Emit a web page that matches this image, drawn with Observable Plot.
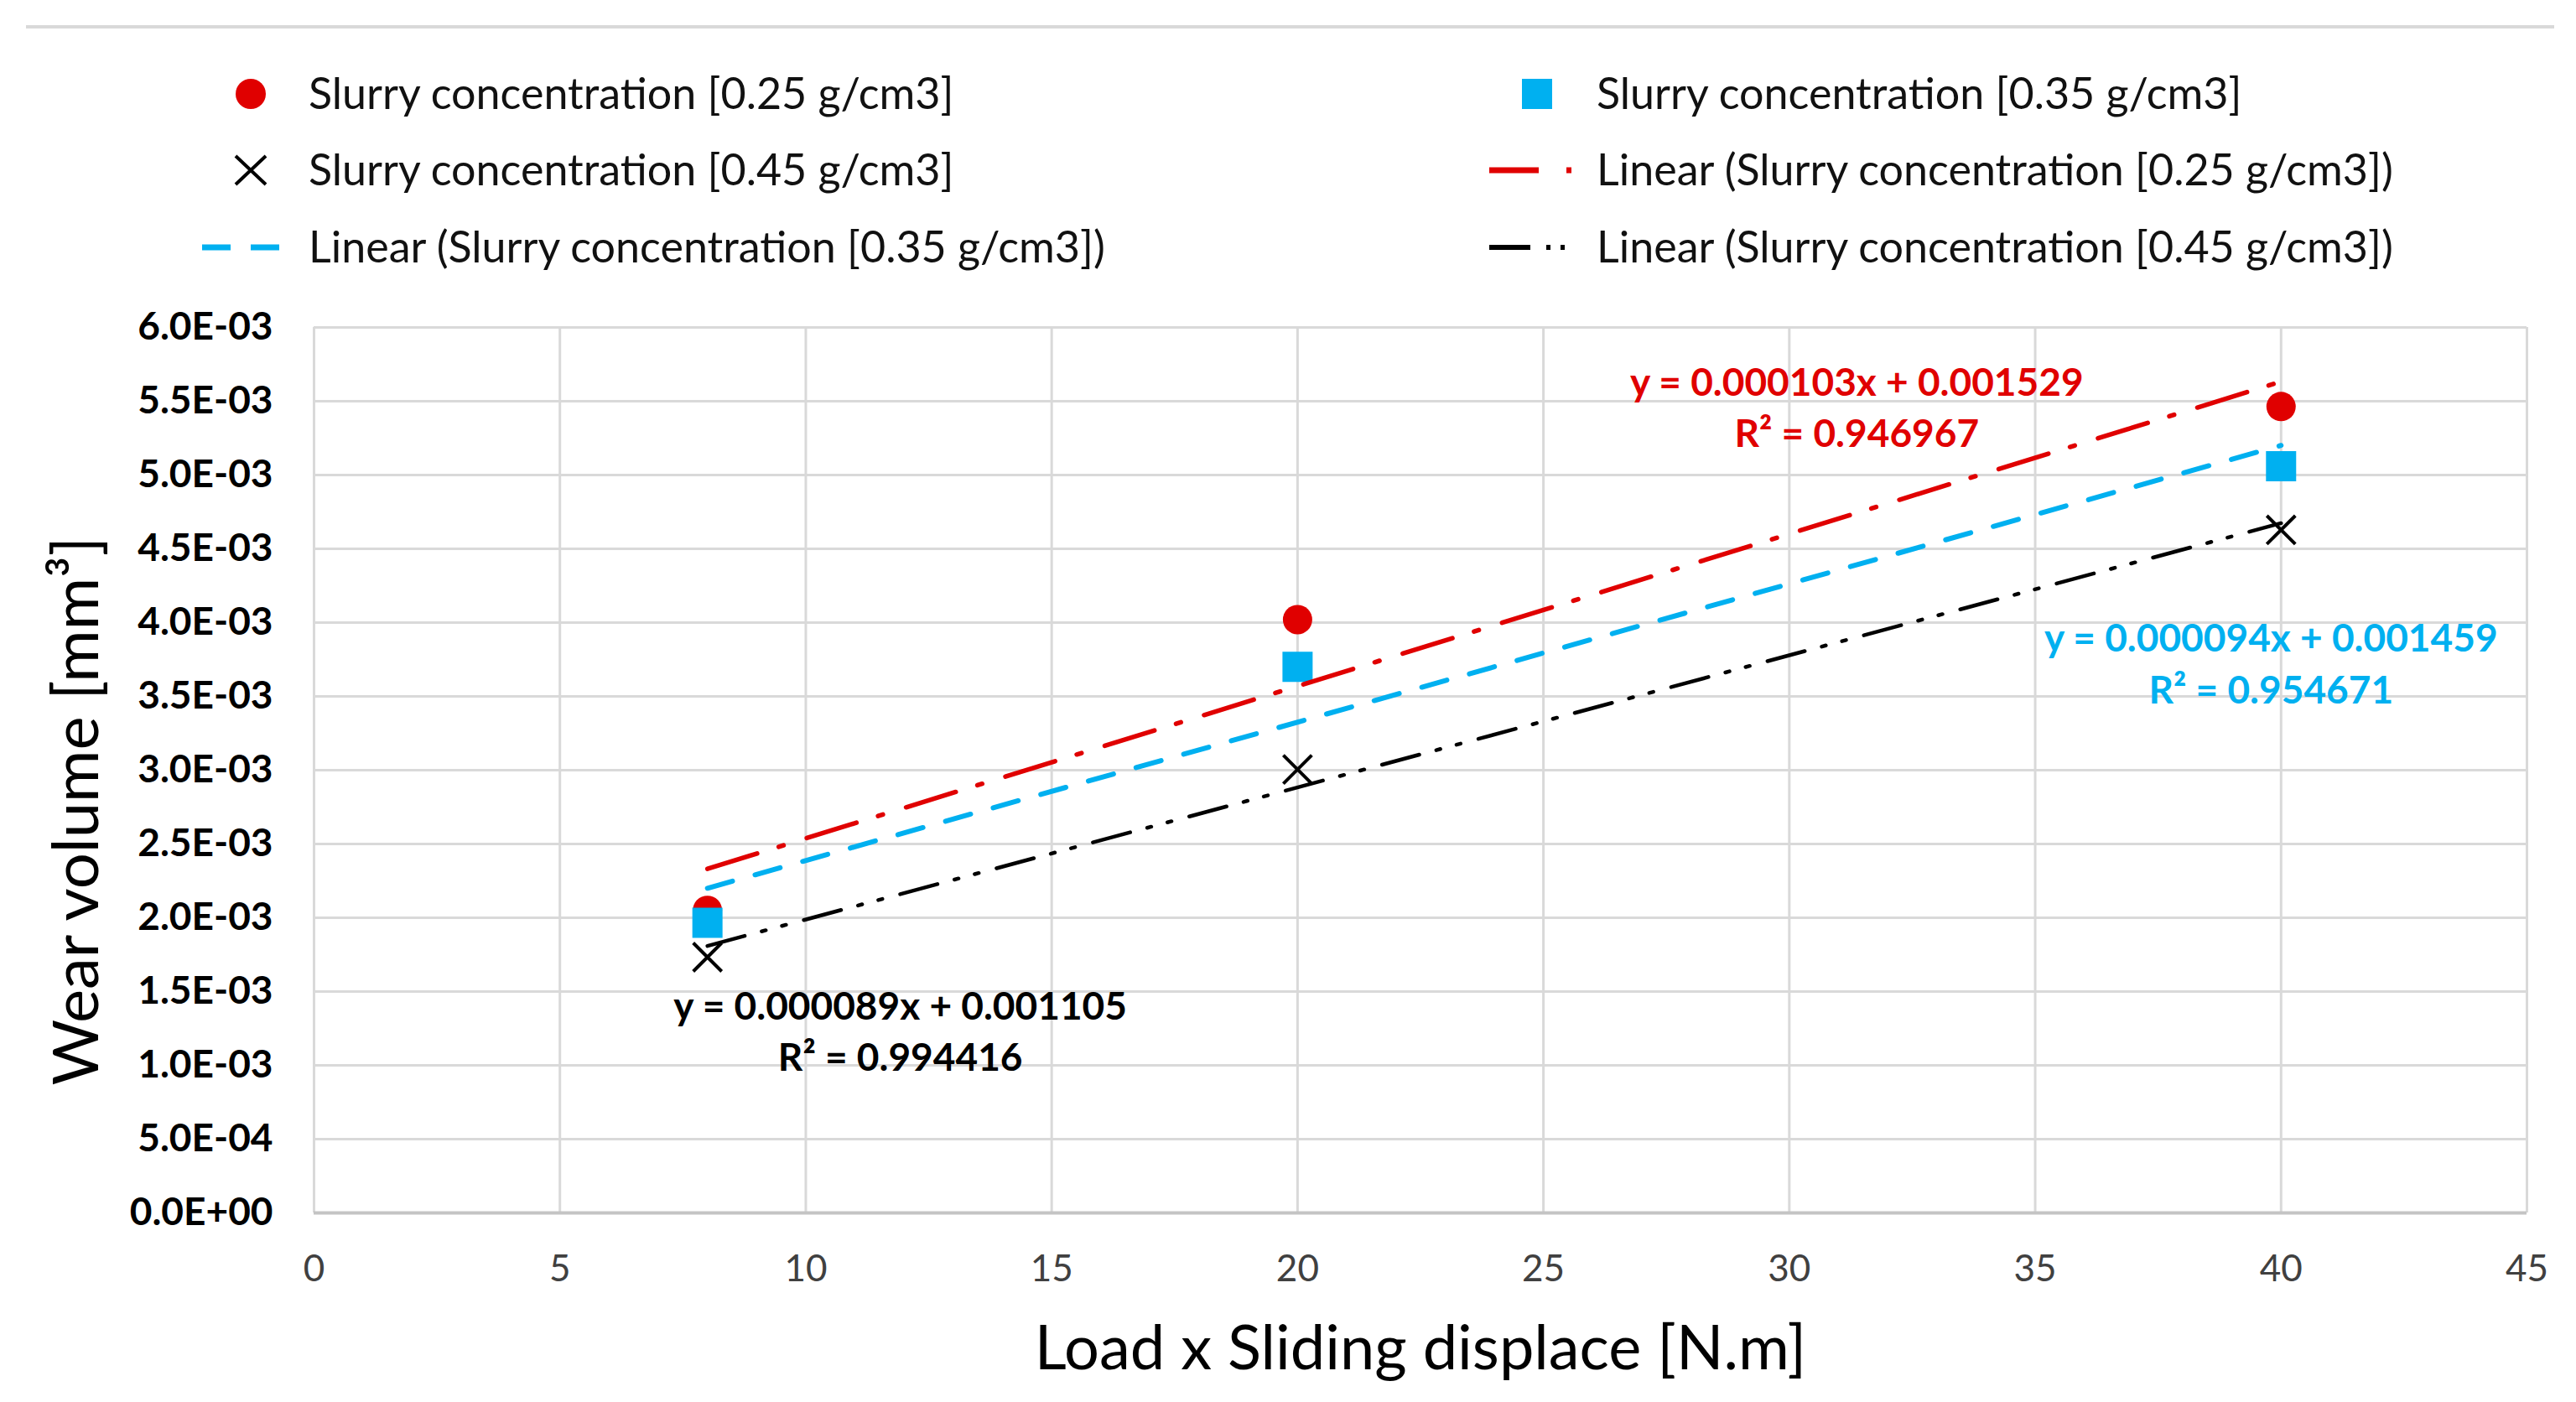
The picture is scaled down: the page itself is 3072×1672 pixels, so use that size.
<!DOCTYPE html>
<html><head><meta charset="utf-8">
<script src="https://cdn.jsdelivr.net/npm/d3@7"></script>
<script src="https://cdn.jsdelivr.net/npm/@observablehq/plot@0.6"></script>
<style>
html,body{margin:0;padding:0;background:#fff}
body{width:3072px;height:1672px;overflow:hidden;font-family:Lato,"Open Sans",sans-serif}
#wrap{position:relative;width:3072px;height:1672px}
.topline{position:absolute;left:31px;top:30px;width:3015px;height:0;border-top:4px solid #d9d9d9}
.sym{position:absolute}
.lab{position:absolute;font-size:52px;color:#111;white-space:nowrap;line-height:60px;height:60px}
#chart{position:absolute;left:0;top:340px}
</style></head><body>
<div id="wrap"><div class="topline"></div><div id="legend"></div><div id="chart"></div></div>
<script>
// ---- data ----
const xValues = [8, 20, 40];
const seriesNames = ["Slurry concentration [0.25 g/cm3]", "Slurry concentration [0.35 g/cm3]", "Slurry concentration [0.45 g/cm3]"];
const wear025 = [0.00205, 0.00402, 0.005464];
const wear035 = [0.001966, 0.00370, 0.00506];
const wear045 = [0.001733, 0.003005, 0.004628];
const equations = ["y = 0.000103x + 0.001529", "y = 0.000094x + 0.001459", "y = 0.000089x + 0.001105"];
const rSquared = ["R² = 0.946967", "R² = 0.954671", "R² = 0.994416"];
const xTicks = [0, 5, 10, 15, 20, 25, 30, 35, 40, 45];
const yTicks = [0, 0.0005, 0.001, 0.0015, 0.002, 0.0025, 0.003, 0.0035, 0.004, 0.0045, 0.005, 0.0055, 0.006];
const yTickLabels = ["0.0E+00", "5.0E-04", "1.0E-03", "1.5E-03", "2.0E-03", "2.5E-03", "3.0E-03", "3.5E-03", "4.0E-03", "4.5E-03", "5.0E-03", "5.5E-03", "6.0E-03"];
const xLabel = "Load x Sliding displace [N.m]";
const yLabel = "Wear volume [mm³]";

const RED = "#e00000", BLUE = "#00b0f0", BLACK = "#000000";
const colors = [RED, BLUE, BLACK];

const seriesData = [wear025, wear035, wear045].map(vals => xValues.map((x, i) => ({x, y: vals[i]})));

// ---- legend ----
const legendItems = [
  {col: 0, row: 0, kind: "circle", s: 0, text: seriesNames[0]},
  {col: 1, row: 0, kind: "square", s: 1, text: seriesNames[1]},
  {col: 0, row: 1, kind: "times", s: 2, text: seriesNames[2]},
  {col: 1, row: 1, kind: "dashdot", s: 0, text: "Linear (" + seriesNames[0] + ")"},
  {col: 0, row: 2, kind: "dash", s: 1, text: "Linear (" + seriesNames[1] + ")"},
  {col: 1, row: 2, kind: "dashdotdot", s: 2, text: "Linear (" + seriesNames[2] + ")"}
];
const rowY = [112, 203, 295];
const symLeft = [238, 1772];
const textLeft = [368, 1904];
const leg = document.getElementById("legend");
for (const it of legendItems) {
  const c = colors[it.s];
  let inner = "";
  if (it.kind === "circle") inner = `<circle cx="61" cy="30" r="18" fill="${c}"/>`;
  if (it.kind === "square") inner = `<rect x="43" y="12" width="36" height="36" fill="${c}"/>`;
  if (it.kind === "times") inner = `<path d="M43,13L79,47M79,13L43,47" stroke="${c}" stroke-width="4"/>`;
  if (it.kind === "dash") inner = `<line x1="3" y1="30" x2="100" y2="30" stroke="${c}" stroke-width="7" stroke-dasharray="34,24"/>`;
  if (it.kind === "dashdot") inner = `<line x1="4" y1="30" x2="102" y2="30" stroke="${c}" stroke-width="7" stroke-dasharray="59,33,6,40"/>`;
  if (it.kind === "dashdotdot") inner = `<line x1="4" y1="30" x2="102" y2="30" stroke="${c}" stroke-width="6" stroke-dasharray="49,19,5,12,5,40"/>`;
  const svg = document.createElementNS("http://www.w3.org/2000/svg", "svg");
  svg.setAttribute("width", 110); svg.setAttribute("height", 60);
  svg.setAttribute("class", "sym");
  svg.style.left = symLeft[it.col] + "px"; svg.style.top = (rowY[it.row] - 30) + "px";
  svg.innerHTML = inner;
  leg.appendChild(svg);
  const d = document.createElement("div");
  d.className = "lab";
  d.style.left = textLeft[it.col] + "px"; d.style.top = (rowY[it.row] - 32) + "px";
  d.textContent = it.text;
  leg.appendChild(d);
}

// ---- chart ----
const chart = Plot.plot({
  width: 3072, height: 1332,
  marginLeft: 374, marginRight: 59, marginTop: 50, marginBottom: 226,
  style: {fontFamily: "Lato, 'Open Sans', sans-serif", background: "white", overflow: "visible"},
  x: {domain: [0, 45], label: null},
  y: {domain: [0, 0.006], label: null},
  marks: [
    Plot.gridX(xTicks, {stroke: "#d9d9d9", strokeOpacity: 1, strokeWidth: 3}),
    Plot.gridY(yTicks, {stroke: "#d9d9d9", strokeOpacity: 1, strokeWidth: 3}),
    Plot.ruleY([0], {stroke: "#c4c4c4", strokeWidth: 4}),
    Plot.axisX({ticks: xTicks, tickSize: 0, tickPadding: 50, fontSize: 44, fill: "#404040", label: null, tickFormat: d => String(d)}),
    Plot.axisY({ticks: yTicks, tickSize: 0, tickPadding: 49, fontSize: 46, fontWeight: "bold", fill: "#000", label: null,
      tickFormat: d => yTickLabels[yTicks.indexOf(d)]}),
    Plot.dot(seriesData[0], {x: "x", y: "y", r: 17.5, fill: RED, symbol: "circle"}),
    Plot.dot(seriesData[1], {x: "x", y: "y", r: 20.3, fill: BLUE, symbol: "square"}),
    Plot.dot(seriesData[2], {x: "x", y: "y", r: 15.5, stroke: BLACK, strokeWidth: 4, symbol: "times"}),
    Plot.linearRegressionY(seriesData[0], {x: "x", y: "y", ci: 0, stroke: RED, strokeWidth: 5.5, strokeDasharray: "62,27,6,29"}),
    Plot.linearRegressionY(seriesData[1], {x: "x", y: "y", ci: 0, stroke: BLUE, strokeWidth: 6, strokeDasharray: "31,28"}),
    Plot.linearRegressionY(seriesData[2], {x: "x", y: "y", ci: 0, stroke: BLACK, strokeWidth: 4.5, strokeDasharray: "46,21,5,20,5,22"}),
    Plot.text([seriesData[0][2]], {x: "x", y: "y", text: () => equations[0] + "\n" + rSquared[0], fill: RED, fontSize: 46, fontWeight: "bold", lineAnchor: "top", lineHeight: 1.33, dx: -506, dy: -56}),
    Plot.text([seriesData[1][2]], {x: "x", y: "y", text: () => equations[1] + "\n" + rSquared[1], fill: BLUE, fontSize: 46, fontWeight: "bold", lineAnchor: "top", lineHeight: 1.33, dx: -12, dy: 178}),
    Plot.text([seriesData[2][0]], {x: "x", y: "y", text: () => equations[2] + "\n" + rSquared[2], fill: BLACK, fontSize: 46, fontWeight: "bold", lineAnchor: "top", lineHeight: 1.33, dx: 230, dy: 31}),
    Plot.text([xLabel], {frameAnchor: "bottom", lineAnchor: "top", dy: 134, fontSize: 74, fill: "#000"}),
    Plot.text([yLabel], {frameAnchor: "left", rotate: -90, dx: -282, dy: 376, fontSize: 76, fill: "#000"})
  ]
});
document.getElementById("chart").appendChild(chart);
</script>
</body></html>
